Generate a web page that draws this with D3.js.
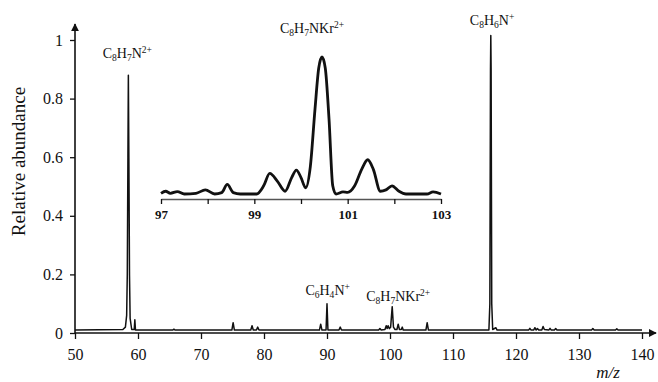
<!DOCTYPE html>
<html>
<head>
<meta charset="utf-8">
<script src="https://cdn.jsdelivr.net/npm/d3@7"></script>
<style>
  body { margin: 0; background: #fff; }
  svg { display: block; }
  text { font-family: "Liberation Serif", "Times New Roman", serif; fill: #111; }
</style>
</head>
<body>
<div id="chart"></div>
<script>
// main spectrum: [m/z, relative abundance]
const spectrum = [
  [50, 0.01], [57.6, 0.012], [58.0, 0.02], [58.2, 0.06], [58.3, 0.2], [58.4, 0.6], [58.47, 0.88],
  [58.55, 0.6], [58.65, 0.2], [58.75, 0.05], [59.0, 0.012], [59.4, 0.012], [59.5, 0.045], [59.6, 0.01],
  [65.5, 0.01], [65.7, 0.013], [65.9, 0.01], [74.9, 0.01], [75.1, 0.035], [75.3, 0.01],
  [77.9, 0.01], [78.1, 0.025], [78.3, 0.01], [78.8, 0.01], [79.0, 0.02], [79.2, 0.01],
  [88.8, 0.01], [89.0, 0.03], [89.2, 0.01], [89.85, 0.01], [90.0, 0.1], [90.15, 0.01],
  [91.9, 0.01], [92.1, 0.02], [92.3, 0.01], [98.2, 0.01], [98.4, 0.015], [98.6, 0.01],
  [99.2, 0.012], [99.4, 0.025], [99.55, 0.015], [99.7, 0.025], [99.9, 0.015], [100.1, 0.02],
  [100.35, 0.09], [100.55, 0.02], [100.8, 0.012], [101.1, 0.012], [101.3, 0.03], [101.5, 0.012],
  [101.8, 0.012], [101.95, 0.02], [102.1, 0.01], [105.7, 0.01], [105.9, 0.035], [106.1, 0.01],
  [115.7, 0.01], [115.85, 0.1], [115.95, 0.9], [116.0, 1.015], [116.05, 0.9], [116.15, 0.1],
  [116.3, 0.012], [116.8, 0.018], [117.0, 0.01], [122.0, 0.01], [122.2, 0.016], [122.4, 0.01],
  [122.8, 0.01], [123.0, 0.018], [123.2, 0.01], [123.4, 0.015], [123.6, 0.01], [124.1, 0.01],
  [124.3, 0.022], [124.5, 0.012], [125.2, 0.01], [125.4, 0.016], [125.6, 0.01], [126.1, 0.01],
  [126.3, 0.015], [126.5, 0.01], [132.0, 0.01], [132.2, 0.015], [132.4, 0.01],
  [135.8, 0.01], [136.0, 0.014], [136.2, 0.01], [140, 0.01]
];

// inset: zoom on the C8H7NKr2+ region, relative to its own maximum
const inset = [
  [97.0, 0.005], [97.1, 0.02], [97.2, 0.005], [97.35, 0.018], [97.5, 0.0], [97.75, 0.005],
  [97.95, 0.03], [98.15, 0.0], [98.3, 0.01], [98.42, 0.07], [98.55, 0.01], [98.7, 0.0],
  [99.05, 0.0], [99.2, 0.06], [99.33, 0.15], [99.5, 0.09], [99.66, 0.02], [99.8, 0.12],
  [99.9, 0.175], [100.0, 0.12], [100.1, 0.045], [100.2, 0.2], [100.3, 0.62], [100.38, 0.92],
  [100.45, 1.0], [100.52, 0.92], [100.6, 0.55], [100.68, 0.06], [100.75, 0.0], [100.9, 0.015],
  [101.0, 0.012], [101.15, 0.06], [101.3, 0.18], [101.43, 0.25], [101.55, 0.18], [101.7, 0.02],
  [101.82, 0.03], [101.95, 0.06], [102.1, 0.02], [102.25, 0.0], [102.7, 0.0], [102.83, 0.015],
  [103.0, 0.0]
];

const xTicks = [50, 60, 70, 80, 90, 100, 110, 120, 130, 140];
const yTicks = [0, 0.2, 0.4, 0.6, 0.8, 1];
const insetTicks = [97, 98, 99, 100, 101, 102, 103];
const insetLabels = [97, 99, 101, 103];

// ion labels: parts are [text, "" | "sub" | "sup"]
const ionLabels = [
  { x: 58.3, y: 0.94, parts: [["C", ""], ["8", "sub"], ["H", ""], ["7", "sub"], ["N", ""], ["2+", "sup"]] },
  { x: 116.2, y: 1.05, parts: [["C", ""], ["8", "sub"], ["H", ""], ["6", "sub"], ["N", ""], ["+", "sup"]] },
  { x: 90.1, y: 0.13, parts: [["C", ""], ["6", "sub"], ["H", ""], ["4", "sub"], ["N", ""], ["+", "sup"]] },
  { x: 101.3, y: 0.11, parts: [["C", ""], ["8", "sub"], ["H", ""], ["7", "sub"], ["N", ""], ["Kr", ""], ["2+", "sup"]] }
];
const insetTitle = [["C", ""], ["8", "sub"], ["H", ""], ["7", "sub"], ["N", ""], ["Kr", ""], ["2+", "sup"]];

const width = 658, height = 382;
const svg = d3.select("#chart").append("svg")
  .attr("width", width).attr("height", height);
svg.append("rect").attr("width", width).attr("height", height).attr("fill", "#fff");

const defs = svg.append("defs");
defs.append("marker").attr("id", "arrow")
  .attr("viewBox", "0 0 10 10").attr("refX", 9).attr("refY", 5)
  .attr("markerWidth", 8).attr("markerHeight", 8).attr("markerUnits", "userSpaceOnUse")
  .attr("orient", "auto")
  .append("path").attr("d", "M0,0L10,5L0,10z").attr("fill", "#111");

const x = d3.scaleLinear().domain([50, 140]).range([75, 642]);
const y = d3.scaleLinear().domain([0, 1]).range([333, 40]);

// axes
const xAxis = svg.append("g").attr("transform", `translate(0,${y(0)})`)
  .call(d3.axisBottom(x).tickValues(xTicks).tickSize(6).tickSizeOuter(0).tickFormat(d3.format("d")));
xAxis.select(".domain").remove();
xAxis.selectAll("line").attr("stroke", "#111").attr("stroke-width", 1.3);
xAxis.selectAll("text").attr("font-size", 16).attr("dy", "1.15em")
  .style("font-family", '"Liberation Serif", serif').attr("fill", "#111");

const yAxis = svg.append("g").attr("transform", `translate(${x(50)},0)`)
  .call(d3.axisLeft(y).tickValues(yTicks).tickSize(5).tickSizeOuter(0).tickFormat(d => d === 0 || d === 1 ? d : d.toFixed(1)));
yAxis.select(".domain").remove();
yAxis.selectAll("line").attr("stroke", "#111").attr("stroke-width", 1.3);
yAxis.selectAll("text").attr("font-size", 16).attr("x", -12)
  .style("font-family", '"Liberation Serif", serif').attr("fill", "#111");

svg.append("line").attr("x1", x(50)).attr("y1", y(0)).attr("x2", 656).attr("y2", y(0))
  .attr("stroke", "#111").attr("stroke-width", 1.6).attr("marker-end", "url(#arrow)");
svg.append("line").attr("x1", x(50)).attr("y1", y(0)).attr("x2", x(50)).attr("y2", 24)
  .attr("stroke", "#111").attr("stroke-width", 1.6).attr("marker-end", "url(#arrow)");

svg.append("text")
  .attr("transform", `translate(25,${(y(0) + y(1)) / 2 - 33 + 8}) rotate(-90)`)
  .attr("text-anchor", "middle").attr("font-size", 19)
  .text("Relative abundance");

svg.append("text").attr("x", 608).attr("y", 378).attr("text-anchor", "middle")
  .attr("font-size", 17).attr("font-style", "italic").text("m/z");

// spectrum
const line = d3.line().x(d => x(d[0])).y(d => y(d[1]));
svg.append("path").datum(spectrum)
  .attr("fill", "none").attr("stroke", "#111").attr("stroke-width", 1.5)
  .attr("stroke-linejoin", "round").attr("d", line);

// formula text helper
function formula(g, parts, size) {
  const t = g.append("text").attr("font-size", size);
  let shift = 0;
  parts.forEach(([s, kind]) => {
    const target = kind === "sub" ? 3 : kind === "sup" ? -5 : 0;
    t.append("tspan")
      .attr("dy", target - shift)
      .attr("font-size", kind ? size * 0.68 : size)
      .text(s);
    shift = target;
  });
  return t;
}

// ion labels, centred over their peaks
ionLabels.forEach(l => {
  const g = svg.append("g");
  const t = formula(g, l.parts, 14);
  const w = t.node().getComputedTextLength();
  t.attr("x", x(l.x) - w / 2).attr("y", y(l.y));
});

// inset
const xi = d3.scaleLinear().domain([97, 103]).range([161, 441]);
const yi = d3.scaleLinear().domain([0, 1]).range([194, 57]);

const ia = svg.append("g").attr("transform", "translate(0,199)")
  .call(d3.axisBottom(xi).tickValues(insetTicks).tickSize(5).tickSizeOuter(0)
    .tickFormat(d => insetLabels.includes(d) ? d : ""));
ia.select(".domain").attr("stroke", "#555").attr("stroke-width", 1.3);
ia.selectAll("line").attr("stroke", "#111").attr("stroke-width", 1.3);
ia.selectAll("text").attr("font-size", 13).attr("font-weight", "bold").attr("dy", "0.95em")
  .style("font-family", '"Liberation Serif", serif').attr("fill", "#111");

const iline = d3.line().curve(d3.curveMonotoneX).x(d => xi(d[0])).y(d => yi(d[1]));
svg.append("path").datum(inset)
  .attr("fill", "none").attr("stroke", "#111").attr("stroke-width", 2.8)
  .attr("stroke-linejoin", "round").attr("d", iline);

const tg = svg.append("g");
const tt = formula(tg, insetTitle, 14);
const tw = tt.node().getComputedTextLength();
tt.attr("x", xi(100.45) - tw / 2 - 10).attr("y", 33);
</script>
</body>
</html>
